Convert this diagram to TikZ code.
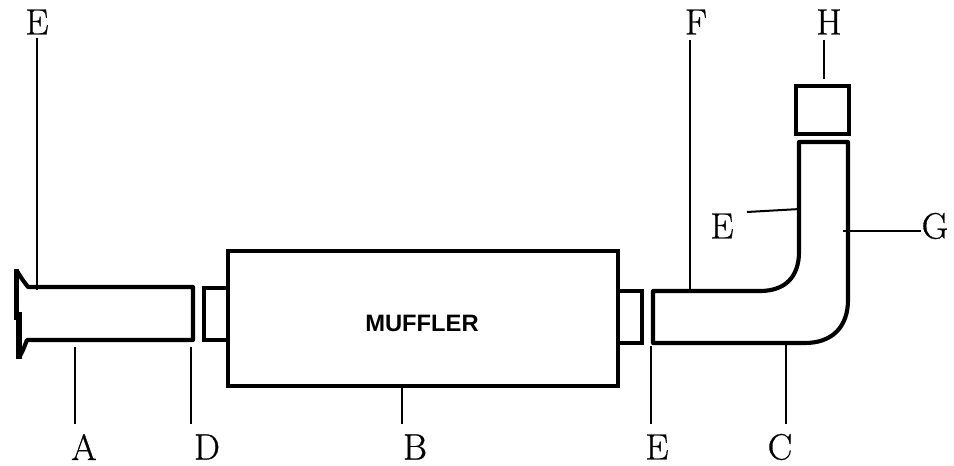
\documentclass[tikz,border=0pt]{standalone}
\usepackage{fontspec}
\newfontfamily\mufflerfont{Liberation Sans}
\newfontfamily\letterfont[FakeBold=0.8]{Latin Modern Roman}
\tikzset{
  part/.style={draw=black,line width=3.2pt,line join=miter,fill=none,outer sep=0pt},
  pipeline/.style={draw=black,line width=3.1pt,line join=round,fill=none},
  flarewall/.style={draw=black,line width=3.8pt},
  leader/.style={draw=black,line width=1.5pt},
  letter/.style={font=\letterfont\fontsize{27.5}{28}\selectfont,inner sep=0pt,text=black,anchor=center}
}
\begin{document}
\begin{tikzpicture}[x=0.75pt,y=-0.75pt]
\useasboundingbox (0,0) rectangle (954,466);
% muffler and its stubs
\node[part,minimum width=292.5pt,minimum height=101.25pt,inner sep=0pt,anchor=north west] (muffler) at (228,251) {};
\node[font=\mufflerfont\bfseries\fontsize{17.8}{18}\selectfont,inner sep=0pt] (mufflertext) at (422,323) {MUFFLER};
\draw[part] (228,288) -- (204,288) -- (204,340) -- (228,340);
\draw[part] (618,291) -- (642,291) -- (642,343) -- (618,343);
% inlet pipe with flare
\draw[flarewall] (16.5,269) -- (16.5,320);
\draw[flarewall] (19,312) -- (19,359);
\draw[pipeline] (19,358) -- (23,350) -- (27,340) -- (193,340) -- (193,287) -- (28,287) -- (22,279) -- (17,271);
% outlet pipe
\draw[pipeline] (653,343) -- (653,291) -- (760,291) .. controls (785,291) and (799,277) .. (799,252) -- (799,142) -- (848,142) -- (848,300) .. controls (848,327) and (832,343) .. (805,343) -- cycle;
% tail cap
\node[part,minimum width=39.75pt,minimum height=36pt,inner sep=0pt,anchor=north west] (cap) at (796,86) {};
% labels
\node[letter] (Etop) at (37,22) {E};
\node[letter] (F) at (696,22) {F};
\node[letter] (H) at (829,22) {H};
\node[letter] (Emid) at (722,226) {E};
\node[letter] (G) at (935,226) {G};
\node[letter] (A) at (84,447) {A};
\node[letter] (D) at (207,447) {D};
\node[letter] (B) at (415,447) {B};
\node[letter] (Ebot) at (657,447) {E};
\node[letter] (C) at (780,447) {C};
% leader ends
\coordinate (EtopA) at (37,38); \coordinate (EtopB) at (37,290);
\coordinate (FA) at (689.5,40); \coordinate (FB) at (689.5,290);
\coordinate (HA) at (824,40); \coordinate (HB) at (824,79);
\coordinate (EmidA) at (747,212); \coordinate (EmidB) at (800,209);
\coordinate (GA) at (921,231); \coordinate (GB) at (843,231);
\coordinate (AA) at (75,424); \coordinate (AB) at (75,347);
\coordinate (DA) at (190.5,424); \coordinate (DB) at (190.5,347);
\coordinate (BA) at (402,424); \coordinate (BB) at (402,386);
\coordinate (EbotA) at (651,424); \coordinate (EbotB) at (651,346);
\coordinate (CA) at (786,424); \coordinate (CB) at (786,345);
\draw[leader] (EtopA) -- (EtopB);
\draw[leader] (FA) -- (FB);
\draw[leader] (HA) -- (HB);
\draw[leader] (EmidA) -- (EmidB);
\draw[leader] (GA) -- (GB);
\draw[leader] (AA) -- (AB);
\draw[leader] (DA) -- (DB);
\draw[leader] (BA) -- (BB);
\draw[leader] (EbotA) -- (EbotB);
\draw[leader] (CA) -- (CB);
\end{tikzpicture}
\end{document}
